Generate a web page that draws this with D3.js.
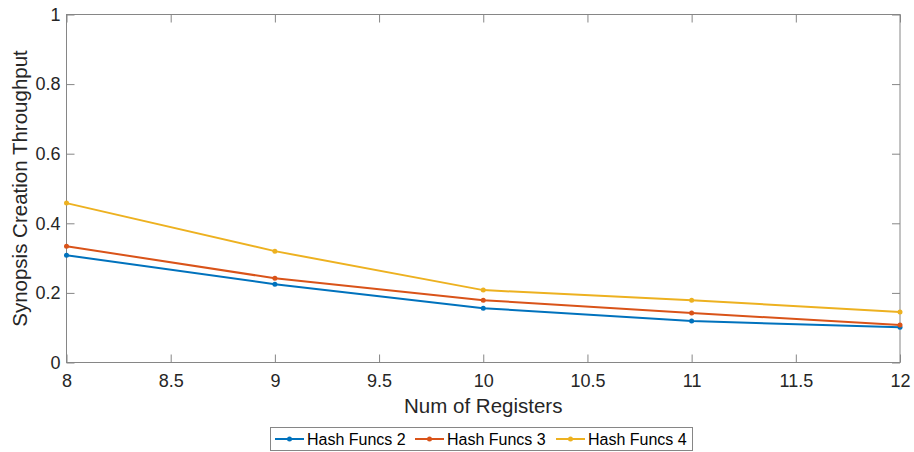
<!DOCTYPE html>
<html><head><meta charset="utf-8">
<script src="https://cdn.jsdelivr.net/npm/d3@7"></script>
<style>body{margin:0;background:#fff}svg{display:block;font-family:"Liberation Sans",Arial,sans-serif}</style>
</head><body><svg id="c" width="914" height="452"></svg>
<script>
const xValues = [8, 9, 10, 11, 12];
const hash2 = [0.308, 0.225, 0.156, 0.119, 0.101];
const hash3 = [0.334, 0.242, 0.179, 0.142, 0.108];
const hash4 = [0.458, 0.320, 0.208, 0.179, 0.145];
const seriesNames = ["Hash Funcs 2", "Hash Funcs 3", "Hash Funcs 4"];
const colors = ["#0072BD", "#D95319", "#EDB120"];
const xTicks = [8, 8.5, 9, 9.5, 10, 10.5, 11, 11.5, 12];
const yTicks = [0, 0.2, 0.4, 0.6, 0.8, 1];

const svg = d3.select("#c");
const L = 66.5, R = 900, T = 14.5, B = 362.5;
const x = d3.scaleLinear().domain([8, 12]).range([L, R]);
const y = d3.scaleLinear().domain([0, 1]).range([B, T]);
const axisCol = "#868686", textCol = "#262626";

svg.append("rect").attr("x", L).attr("y", T).attr("width", R - L).attr("height", B - T)
  .attr("fill", "none").attr("stroke", axisCol).attr("stroke-width", 1);

const fmt = d => d3.format("~g")(d);
const gx = svg.append("g").attr("transform", `translate(0,${B})`)
  .call(d3.axisBottom(x).tickValues(xTicks).tickFormat(fmt).tickSizeInner(-8).tickSizeOuter(0).tickPadding(12));
const gxt = svg.append("g").attr("transform", `translate(0,${T})`)
  .call(d3.axisTop(x).tickValues(xTicks).tickFormat("").tickSizeInner(-8).tickSizeOuter(0));
const gy = svg.append("g").attr("transform", `translate(${L},0)`)
  .call(d3.axisLeft(y).tickValues(yTicks).tickFormat(fmt).tickSizeInner(-8).tickSizeOuter(0).tickPadding(6));
const gyr = svg.append("g").attr("transform", `translate(${R},0)`)
  .call(d3.axisRight(y).tickValues(yTicks).tickFormat("").tickSizeInner(-8).tickSizeOuter(0));
[gx, gxt, gy, gyr].forEach(g => {
  g.select(".domain").remove();
  g.selectAll("line").attr("stroke", axisCol);
  g.selectAll("text").attr("fill", textCol).attr("font-size", 18).attr("font-family", "Liberation Sans, Arial, sans-serif");
});

const all = [hash2, hash3, hash4];
const line = d3.line().x((d, i) => x(xValues[i])).y(d => y(d));
all.forEach((vals, k) => {
  svg.append("path").datum(vals).attr("d", line).attr("fill", "none")
    .attr("stroke", colors[k]).attr("stroke-width", 2);
  svg.selectAll(null).data(vals).enter().append("circle")
    .attr("cx", (d, i) => x(xValues[i])).attr("cy", d => y(d)).attr("r", 2.5).attr("fill", colors[k]);
});

svg.append("text").attr("x", (L + R) / 2).attr("y", 413).attr("text-anchor", "middle")
  .attr("fill", textCol).attr("font-size", 20.5).text("Num of Registers");
svg.append("text").attr("transform", `translate(27,${(T + B) / 2}) rotate(-90)`).attr("text-anchor", "middle")
  .attr("fill", textCol).attr("font-size", 20.5).text("Synopsis Creation Throughput");

const lg = svg.append("g");
lg.append("rect").attr("x", 270.5).attr("y", 427.5).attr("width", 422).attr("height", 23)
  .attr("fill", "#fff").attr("stroke", axisCol);
const lx = [275, 415, 556];
seriesNames.forEach((n, k) => {
  const g = lg.append("g").attr("transform", `translate(${lx[k]},439)`);
  g.append("line").attr("x1", 0).attr("x2", 29).attr("stroke", colors[k]).attr("stroke-width", 2);
  g.append("circle").attr("cx", 14.5).attr("r", 2.5).attr("fill", colors[k]);
  g.append("text").attr("x", 32).attr("y", 6).attr("font-size", 16).attr("fill", "#000").text(n);
});
</script></body></html>
